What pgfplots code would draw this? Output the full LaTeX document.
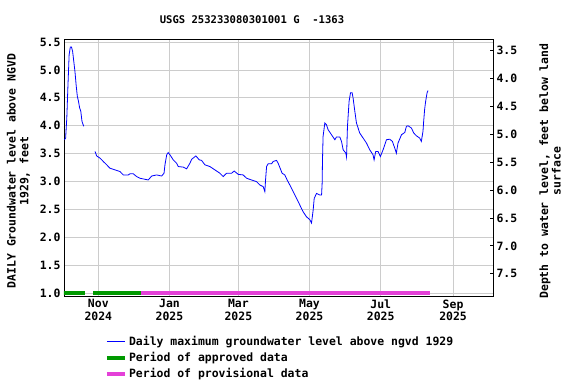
\documentclass[border=0pt]{standalone}
\usepackage{fontspec}
\setmainfont{DejaVu Sans Mono}[BoldFont={DejaVu Sans Mono Bold}]
\usepackage{pgfplots}
\pgfplotsset{compat=1.18}
\definecolor{gridc}{RGB}{204,204,204}
\definecolor{apprv}{RGB}{0,153,0}
\definecolor{prov}{RGB}{228,64,216}
\newcommand{\tf}{\bfseries\fontsize{11.5}{12.7}\selectfont}
\begin{document}
\begin{tikzpicture}
\begin{axis}[
  at={(0,0)}, anchor=south west,
  scale only axis, width=429bp, height=257bp,
  xmin=-29.4, xmax=338.2, ymin=0.952, ymax=5.554,
  xtick={0,61,120,181,242,304},
  xticklabels={Nov\\2024,Jan\\2025,Mar\\2025,May\\2025,Jul\\2025,Sep\\2025},
  xticklabel style={align=center, font=\tf},
  ytick={1,1.5,2,2.5,3,3.5,4,4.5,5,5.5},
  yticklabel style={font=\tf, /pgf/number format/fixed, /pgf/number format/fixed zerofill, /pgf/number format/precision=1},
  /pgf/number format/assume math mode=true,
  major tick length=0pt,
  grid=major, grid style={gridc, line width=0.8bp},
  axis line style={black, line width=0.9bp},
  ylabel={DAILY Groundwater level above NGVD\\1929, feet},
  ylabel style={font=\tf, align=center, at={(axis description cs:-0.106,0.486)}, anchor=center, rotate=0},
  legend style={at={(axis description cs:0.088,-0.14)}, anchor=north west, draw=none, fill=none, font=\tf, row sep=1.4pt, legend cell align=left},
  legend image code/.code={\draw[#1] (0cm,0cm) -- (0.64cm,0cm);},
  clip=true,
]
\addplot[blue, line width=0.8bp, forget plot] coordinates {
(-29,3.75) (-28,3.78) (-27,4.14) (-26,4.73) (-25,5.27) (-24,5.41) (-23,5.41) (-22,5.33)
(-21,5.15) (-20,4.97) (-19,4.73) (-18,4.53) (-17,4.44) (-16,4.32) (-15,4.26) (-14,4.08)
(-13,4.02) (-12.5,3.99)
};
\addplot[blue, line width=0.8bp] coordinates {
(-2.8,3.54) (-1.4,3.46) (1.5,3.42) (4.3,3.36) (7.2,3.30) (10,3.24) (14.3,3.21) (18.6,3.18)
(21.4,3.12) (25.7,3.12) (27.1,3.14) (30,3.14) (32.9,3.09) (35.7,3.06) (42.8,3.03) (45.7,3.10)
(50,3.12) (54.3,3.10) (56.3,3.15) (57.1,3.30) (58.6,3.48) (59.9,3.52) (61.4,3.48) (64.2,3.39)
(67.1,3.33) (68.5,3.27) (72.8,3.26) (75.7,3.23) (78.5,3.33) (80,3.40) (83.6,3.46) (86.5,3.39)
(88.5,3.38) (91.4,3.30) (95.6,3.27) (99.9,3.21) (104.2,3.15) (107,3.09) (109.9,3.15) (114.2,3.15)
(116.4,3.19) (119.9,3.13) (124.1,3.12) (127.1,3.06) (131.3,3.03) (135.6,3.00) (138.4,2.94) (141.3,2.91)
(142.7,2.82) (143.3,3.03) (144.2,3.27) (145.5,3.32) (148.5,3.32) (149.8,3.36) (152.7,3.38) (154.1,3.33)
(157.5,3.15) (159.8,3.12) (161.8,3.03) (164.1,2.94) (167,2.82) (169.9,2.70) (172.7,2.58) (175.5,2.46)
(178.4,2.37) (181.2,2.32) (182.7,2.26) (184.1,2.49) (185,2.70) (187,2.79) (189.8,2.76) (191.3,2.76)
(191.8,2.97) (192.1,3.39) (192.6,3.81) (194.1,4.05) (195.5,4.02) (196.9,3.93) (199.8,3.84) (202.7,3.75)
(204.1,3.80) (206.9,3.80) (208.4,3.72) (209.8,3.57) (212.1,3.51) (212.7,3.44) (213.5,3.99) (214.9,4.44)
(216.1,4.59) (217.5,4.59) (218.3,4.50) (219.8,4.26) (221.2,4.05) (224,3.87) (226.9,3.78) (229.8,3.69)
(232.6,3.57) (235.4,3.48) (236.3,3.39) (237.7,3.54) (239.7,3.54) (241.7,3.45) (244,3.57) (246.9,3.75)
(249.7,3.76) (252,3.72) (254,3.60) (255.4,3.51) (256.8,3.69) (259.8,3.84) (262.6,3.88) (264,3.99)
(265.4,4.00) (268.3,3.96) (270.3,3.87) (272.6,3.82) (275.4,3.78) (276.8,3.72) (278.2,3.90) (278.8,4.08)
(279.6,4.29) (280.5,4.44) (281.7,4.59) (282.5,4.63)
};
\addlegendentry{Daily maximum groundwater level above ngvd 1929}
\addplot[apprv, line width=4bp, forget plot] coordinates {(-30,1.01) (-11.4,1.01)};
\addplot[apprv, line width=4bp] coordinates {(-4.3,1.01) (36.6,1.01)};
\addlegendentry{Period of approved data}
\addplot[prov, line width=4bp] coordinates {(36.6,1.01) (284,1.01)};
\addlegendentry{Period of provisional data}
\end{axis}
\begin{axis}[
  at={(0,0)}, anchor=south west,
  scale only axis, width=429bp, height=257bp,
  xmin=-29.4, xmax=338.2,
  ymin=3.296, ymax=7.898, y dir=reverse,
  axis x line=none, axis y line*=right,
  axis line style={black, line width=0.9bp},
  ytick={3.5,4,4.5,5,5.5,6,6.5,7,7.5},
  yticklabel style={font=\tf, /pgf/number format/fixed, /pgf/number format/fixed zerofill, /pgf/number format/precision=1},
  /pgf/number format/assume math mode=true,
  tick align=inside, major tick length=3bp, tick style={black, line width=0.8bp},
  ylabel={Depth to water level, feet below land\\surface},
  ylabel style={font=\tf, align=center, at={(axis description cs:1.133,0.486)}, anchor=center},
]
\end{axis}
\node[font=\bfseries\fontsize{10.6}{12}\selectfont] at (188bp,276bp) {USGS 253233080301001 G\ \ -1363};
\path[use as bounding box] (-64bp,-88bp) rectangle (512bp,296bp);
\end{tikzpicture}
\end{document}
